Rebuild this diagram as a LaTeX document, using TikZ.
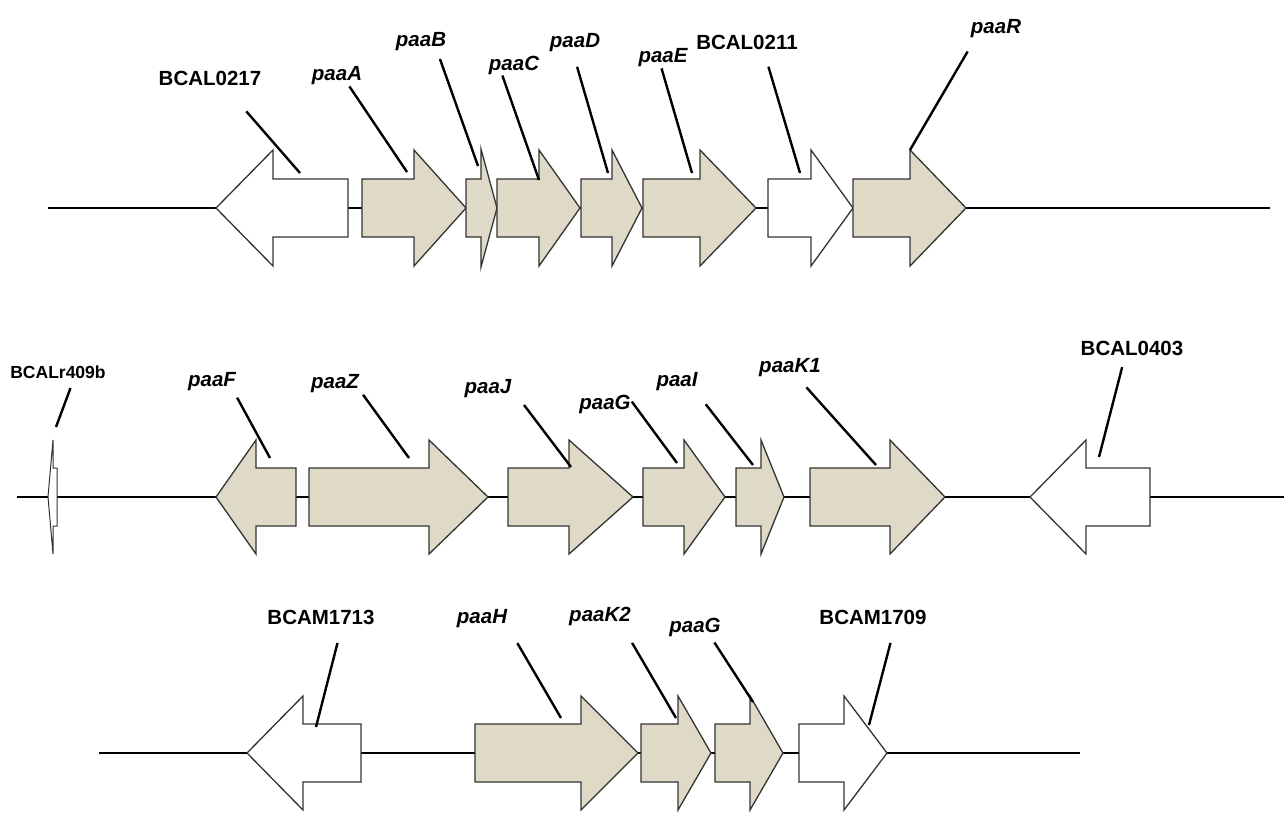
\documentclass[tikz,border=0pt]{standalone}
\usepackage{fontspec}
\setmainfont{Liberation Sans}
\definecolor{paafill}{RGB}{222,218,199}
\begin{document}
\begin{tikzpicture}[x=1pt,y=-1pt]
\tikzstyle{paa}=[draw=black!80,fill=paafill,line width=1.3pt]
\tikzstyle{orf}=[draw=black!80,fill=white,line width=1.3pt]
\tikzstyle{dna}=[line width=2.4pt]
\tikzstyle{lead}=[line width=2.4pt]
\tikzstyle{locus}=[inner sep=1pt,font=\fontsize{20.5}{24}\selectfont\bfseries]
\tikzstyle{gene}=[inner sep=1pt,font=\fontsize{20.5}{24}\selectfont\bfseries\itshape]
\useasboundingbox (0,0) rectangle (1284,812);

\draw[dna] (48,208) -- (1270,208);
\draw[orf] (348,179) -- (273,179) -- (273,150) -- (216,208) -- (273,266) -- (273,237) -- (348,237) -- cycle;
\draw[paa] (362,179) -- (414,179) -- (414,150) -- (466,208) -- (414,266) -- (414,237) -- (362,237) -- cycle;
\draw[paa] (466,179) -- (481,179) -- (481,149) -- (497,208) -- (481,267) -- (481,237) -- (466,237) -- cycle;
\draw[paa] (497,179) -- (539,179) -- (539,150) -- (580,208) -- (539,266) -- (539,237) -- (497,237) -- cycle;
\draw[paa] (581,179) -- (612,179) -- (612,150) -- (642,208) -- (612,266) -- (612,237) -- (581,237) -- cycle;
\draw[paa] (643,179) -- (700,179) -- (700,150) -- (756,208) -- (700,266) -- (700,237) -- (643,237) -- cycle;
\draw[orf] (768,179) -- (811,179) -- (811,150) -- (853,208) -- (811,266) -- (811,237) -- (768,237) -- cycle;
\draw[paa] (853,179) -- (910,179) -- (910,150) -- (966,208) -- (910,266) -- (910,237) -- (853,237) -- cycle;

\node[locus] (l1) at (210,78) {BCAL0217};
\node[gene] (l2) at (337,76) {paaA};
\node[gene] (l3) at (421,42) {paaB};
\node[gene] (l4) at (514,65) {paaC};
\node[gene] (l5) at (575,43) {paaD};
\node[gene] (l6) at (663,58) {paaE};
\node[locus] (l7) at (747,42) {BCAL0211};
\node[gene] (l8) at (996,29) {paaR};
\coordinate (p1) at (300,173);
\coordinate (p2) at (407,172);
\coordinate (p3) at (478,166);
\coordinate (p4) at (539,180);
\coordinate (p5) at (608,173);
\coordinate (p6) at (692,173);
\coordinate (p7) at (800,173);
\coordinate (p8) at (910,150);
\draw[lead,shorten <=33pt] (l1.-30) -- (p1);
\draw[lead] (l2.-40) -- (p2);
\draw[lead,shorten <=7pt] (l3.-32) -- (p3);
\draw[lead] (l4.-138) -- (p4);
\draw[lead,shorten <=14pt] (l5.-100) -- (p5);
\draw[lead] (l6.-98) -- (p6);
\draw[lead,shorten <=17pt] (l7.-27) -- (p7);
\draw[lead,shorten <=14pt] (l8.-154) -- (p8);

\draw[dna] (17,497) -- (1284,497);
\draw[orf,line width=1pt] (57,468) -- (53,468) -- (53,440) -- (48,497) -- (53,554) -- (53,526) -- (57,526) -- cycle;
\draw[paa] (296,468) -- (256,468) -- (256,440) -- (216,497) -- (256,554) -- (256,526) -- (296,526) -- cycle;
\draw[paa] (309,468) -- (429,468) -- (429,440) -- (488,497) -- (429,554) -- (429,526) -- (309,526) -- cycle;
\draw[paa] (508,468) -- (569,468) -- (569,440) -- (633,497) -- (569,554) -- (569,526) -- (508,526) -- cycle;
\draw[paa] (643,468) -- (684,468) -- (684,440) -- (725,497) -- (684,554) -- (684,526) -- (643,526) -- cycle;
\draw[paa] (736,468) -- (761,468) -- (761,440) -- (784,497) -- (761,554) -- (761,526) -- (736,526) -- cycle;
\draw[paa] (810,468) -- (890,468) -- (890,440) -- (945,497) -- (890,554) -- (890,526) -- (810,526) -- cycle;
\draw[orf] (1150,468) -- (1086,468) -- (1086,440) -- (1030,497) -- (1086,554) -- (1086,526) -- (1150,526) -- cycle;

\node[locus,font=\fontsize{17.5}{21}\selectfont\bfseries] (l9) at (58,372) {BCALr409b};
\node[gene] (l10) at (212,382) {paaF};
\node[gene] (l11) at (335,384) {paaZ};
\node[gene] (l12) at (488,389) {paaJ};
\node[gene] (l13) at (605,404) {paaG};
\node[gene] (l14) at (677,382) {paaI};
\node[gene] (l15) at (790,368) {paaK1};
\node[locus] (l16) at (1132,348) {BCAL0403};
\coordinate (p9) at (56,427);
\coordinate (p10) at (270,458);
\coordinate (p11) at (409,458);
\coordinate (p12) at (571,467);
\coordinate (p13) at (677,463);
\coordinate (p14) at (753,465);
\coordinate (p15) at (876,465);
\coordinate (p16) at (1099,457);
\draw[lead,shorten <=9pt] (l9.-26) -- (p9);
\draw[lead,shorten <=6pt] (l10.-25) -- (p10);
\draw[lead,shorten <=5pt] (l11.-15) -- (p11);
\draw[lead,shorten <=19pt] (l12.-2) -- (p12);
\draw[lead] (l13.5) -- (p13);
\draw[lead,shorten <=15pt] (l14.-28) -- (p14);
\draw[lead,shorten <=12pt] (l15.-51) -- (p15);
\draw[lead,shorten <=11pt] (l16.-130) -- (p16);

\draw[dna] (99,753) -- (1080,753);
\draw[orf] (361,724) -- (303,724) -- (303,696) -- (247,753) -- (303,810) -- (303,782) -- (361,782) -- cycle;
\draw[paa] (475,724) -- (581,724) -- (581,696) -- (638,753) -- (581,810) -- (581,782) -- (475,782) -- cycle;
\draw[paa] (641,724) -- (678,724) -- (678,696) -- (711,753) -- (678,810) -- (678,782) -- (641,782) -- cycle;
\draw[paa] (715,724) -- (750,724) -- (750,696) -- (783,753) -- (750,810) -- (750,782) -- (715,782) -- cycle;
\draw[orf] (799,724) -- (844,724) -- (844,696) -- (887,753) -- (844,810) -- (844,782) -- (799,782) -- cycle;

\node[locus] (l17) at (321,617) {BCAM1713};
\node[gene] (l18) at (482,619) {paaH};
\node[gene] (l19) at (600,616) {paaK2};
\node[gene] (l20) at (695,627) {paaG};
\node[locus] (l21) at (873,617) {BCAM1709};
\coordinate (p17) at (316,727);
\coordinate (p18) at (561,718);
\coordinate (p19) at (676,718);
\coordinate (p20) at (753,702);
\coordinate (p21) at (869,725);
\draw[lead,shorten <=18pt] (l17.-22) -- (p17);
\draw[lead,shorten <=18pt] (l18.-18) -- (p18);
\draw[lead,shorten <=19pt] (l19.-25) -- (p19);
\draw[lead,shorten <=6pt] (l20.-33) -- (p20);
\draw[lead,shorten <=18pt] (l21.-21) -- (p21);
\end{tikzpicture}
\end{document}
